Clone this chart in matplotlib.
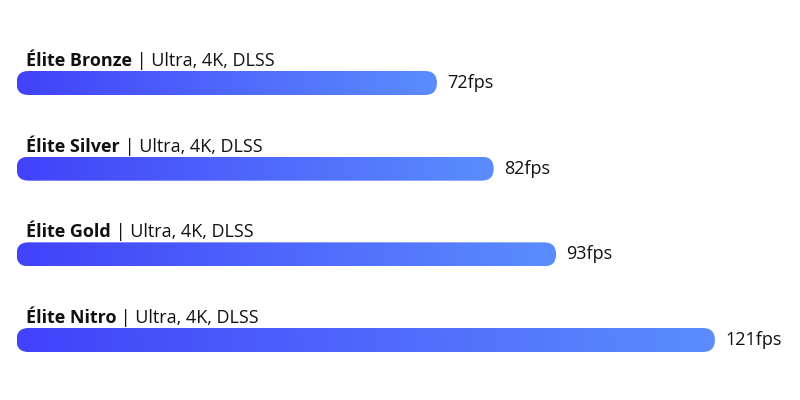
import numpy as np
import matplotlib
matplotlib.use("Agg")
import matplotlib.pyplot as plt
from matplotlib.patches import FancyBboxPatch
from matplotlib.colors import LinearSegmentedColormap

names = ["Élite Bronze", "Élite Silver", "Élite Gold", "Élite Nitro"]
setting = " | Ultra, 4K, DLSS"
fps = [72, 82, 93, 121]
unit = "fps"

plt.rcParams['font.family'] = ['Open Sans', 'DejaVu Sans']

W, H = 800, 400
px_x = 5.673          # pixels per fps
x0_px = 28.5          # where 0 fps sits
row_px = 85.67        # pixels between rows
y0_px = 83            # centre of first bar
half_px = 12          # half bar height

fig = plt.figure(figsize=(W / 100, H / 100), dpi=100)
ax = fig.add_axes([0, 0, 1, 1])
ax.set_xlim(-x0_px / px_x, (W - x0_px) / px_x)
ax.set_ylim((H - y0_px) / row_px, -y0_px / row_px)
ax.axis("off")

cmap = LinearSegmentedColormap.from_list("bar", ["#4242fa", "#5b8dfd"])
grad = np.linspace(0, 1, 256).reshape(1, -1)

hx = half_px / px_x      # half height in x units
hy = half_px / row_px    # half height in y units

for i, (name, v) in enumerate(zip(names, fps)):
    left = -hx
    width = v + hx
    patch = FancyBboxPatch((left, i - hy), width, 2 * hy,
                           boxstyle=f"round,pad=0,rounding_size={hx}",
                           mutation_aspect=hy / hx,
                           facecolor="none", edgecolor="none")
    ax.add_patch(patch)
    im = ax.imshow(grad, extent=(left, left + width, i + hy, i - hy),
                   cmap=cmap, aspect="auto", interpolation="bicubic")
    im.set_clip_path(patch)

    t = ax.text(-2.5 / px_x, i - 0.15, name, fontsize=13, fontweight="bold",
                color="#111111", ha="left", va="bottom")
    ax.annotate(setting, xy=(1, 0), xycoords=t, fontsize=13,
                color="#111111", ha="left", va="bottom")
    ax.text(v + 10 / px_x, i, f"{v}{unit}", fontsize=13,
            color="#111111", ha="left", va="center")

ax.set_xlim(-x0_px / px_x, (W - x0_px) / px_x)
ax.set_ylim((H - y0_px) / row_px, -y0_px / row_px)
fig.savefig("out.png", dpi=100)
